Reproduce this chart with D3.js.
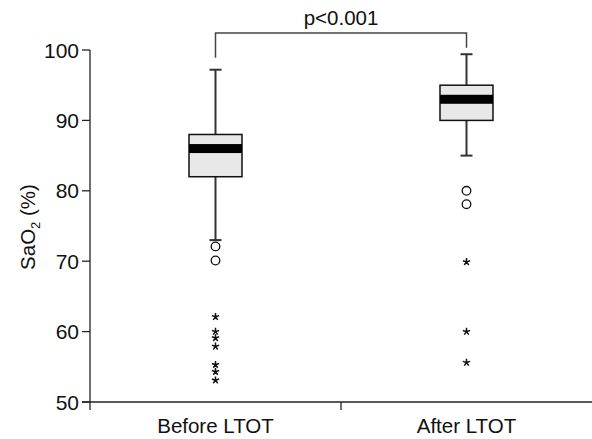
<!DOCTYPE html>
<html>
<head>
<meta charset="utf-8">
<script src="https://cdn.jsdelivr.net/npm/d3@7"></script>
<style>
  body { margin: 0; background: #fff; }
  text { font-family: "Liberation Sans", Arial, sans-serif; fill: #111; }
</style>
</head>
<body>
<div id="chart"></div>
<script>
// box plot summaries
var groups = ["Before LTOT", "After LTOT"];
var whiskerLow = [73, 85];
var q1 = [82, 90];
var median = [86, 93];
var q3 = [88, 95];
var whiskerHigh = [97.2, 99.4];
var circleOutliers = [[72.1, 70.1], [80, 78.1]];
var starOutliers = [[62.1, 60, 59.1, 57.9, 55.3, 54.3, 53.1], [69.9, 60, 55.6]];
var yTicks = [50, 60, 70, 80, 90, 100];
var pLabel = "p<0.001";

var width = 592, height = 439;

var svg = d3.select("#chart").append("svg")
    .attr("width", width)
    .attr("height", height);

var x = d3.scaleBand().domain(groups).range([90, 592]);
var y = d3.scaleLinear().domain([50, 100]).range([402, 50]);

function cx(i) { return x(groups[i]) + x.bandwidth() / 2; }

// y axis
svg.append("line")
    .attr("x1", 90).attr("x2", 90)
    .attr("y1", y(100)).attr("y2", 410)
    .style("stroke", "#222").style("stroke-width", 1.3);

svg.selectAll(".ytick").data(yTicks).enter().append("line")
    .attr("x1", 82).attr("x2", 90)
    .attr("y1", function(d) { return y(d); })
    .attr("y2", function(d) { return y(d); })
    .style("stroke", "#222").style("stroke-width", 1.3);

svg.selectAll(".ylab").data(yTicks).enter().append("text")
    .attr("x", 79)
    .attr("y", function(d) { return y(d); })
    .attr("dy", "0.36em")
    .attr("text-anchor", "end")
    .style("font-size", "21px")
    .text(function(d) { return d; });

// x axis
svg.append("line")
    .attr("x1", 82).attr("x2", 592)
    .attr("y1", y(50)).attr("y2", y(50))
    .style("stroke", "#222").style("stroke-width", 1.3);

svg.selectAll(".xtick").data(groups.slice(1)).enter().append("line")
    .attr("x1", function(d) { return x(d); })
    .attr("x2", function(d) { return x(d); })
    .attr("y1", y(50)).attr("y2", 410)
    .style("stroke", "#222").style("stroke-width", 1.3);

svg.selectAll(".xlab").data(groups).enter().append("text")
    .attr("x", function(d, i) { return cx(i); })
    .attr("y", 433)
    .attr("text-anchor", "middle")
    .style("font-size", "20.5px")
    .text(function(d) { return d; });

// y title
var yt = svg.append("text")
    .attr("transform", "translate(35," + 227 + ") rotate(-90)")
    .attr("text-anchor", "middle")
    .style("font-size", "20.5px");
yt.append("tspan").text("SaO");
yt.append("tspan").attr("dy", 5).style("font-size", "13px").text("2");
yt.append("tspan").attr("dy", -5).text(" (%)");

// boxes
var boxW = 53, capW = 12;
var g = svg.selectAll(".box").data(groups).enter().append("g");

g.append("line")
    .attr("x1", function(d, i) { return cx(i); })
    .attr("x2", function(d, i) { return cx(i); })
    .attr("y1", function(d, i) { return y(whiskerHigh[i]); })
    .attr("y2", function(d, i) { return y(whiskerLow[i]); })
    .style("stroke", "#333").style("stroke-width", 2);

g.append("line")
    .attr("x1", function(d, i) { return cx(i) - capW / 2; })
    .attr("x2", function(d, i) { return cx(i) + capW / 2; })
    .attr("y1", function(d, i) { return y(whiskerHigh[i]); })
    .attr("y2", function(d, i) { return y(whiskerHigh[i]); })
    .style("stroke", "#333").style("stroke-width", 2);

g.append("line")
    .attr("x1", function(d, i) { return cx(i) - capW / 2; })
    .attr("x2", function(d, i) { return cx(i) + capW / 2; })
    .attr("y1", function(d, i) { return y(whiskerLow[i]); })
    .attr("y2", function(d, i) { return y(whiskerLow[i]); })
    .style("stroke", "#333").style("stroke-width", 2);

g.append("rect")
    .attr("x", function(d, i) { return cx(i) - boxW / 2; })
    .attr("y", function(d, i) { return y(q3[i]); })
    .attr("width", boxW)
    .attr("height", function(d, i) { return y(q1[i]) - y(q3[i]); })
    .style("fill", "#e8e8e8").style("stroke", "#111").style("stroke-width", 1.5);

g.append("rect")
    .attr("x", function(d, i) { return cx(i) - boxW / 2; })
    .attr("y", function(d, i) { return y(median[i]) - 4.5; })
    .attr("width", boxW)
    .attr("height", 9)
    .style("fill", "#000");

// outliers
g.each(function(d, i) {
  d3.select(this).selectAll(".circ").data(circleOutliers[i]).enter().append("circle")
      .attr("cx", cx(i))
      .attr("cy", function(v) { return y(v); })
      .attr("r", 4.3)
      .style("fill", "none").style("stroke", "#111").style("stroke-width", 1.3);

  d3.select(this).selectAll(".star").data(starOutliers[i]).enter().append("path")
      .attr("transform", function(v) { return "translate(" + cx(i) + "," + y(v) + ")"; })
      .attr("d", function() {
        var p = d3.path(), r = 3.8;
        for (var k = 0; k < 5; k++) {
          var a = -Math.PI / 2 + k * 2 * Math.PI / 5;
          p.moveTo(0, 0);
          p.lineTo(r * Math.cos(a), r * Math.sin(a));
        }
        return p.toString();
      })
      .style("fill", "none").style("stroke", "#111").style("stroke-width", 1.5);
});

// significance bracket
var by = 33;
svg.append("path")
    .attr("d", "M" + cx(0) + "," + (y(whiskerHigh[0]) - 12) +
               "V" + by + "H" + cx(1) + "V" + (y(whiskerHigh[1]) - 6.5))
    .style("fill", "none").style("stroke", "#444").style("stroke-width", 1.5);

svg.append("text")
    .attr("x", (cx(0) + cx(1)) / 2)
    .attr("y", 25)
    .attr("text-anchor", "middle")
    .style("font-size", "20.5px")
    .text(pLabel);
</script>
</body>
</html>
